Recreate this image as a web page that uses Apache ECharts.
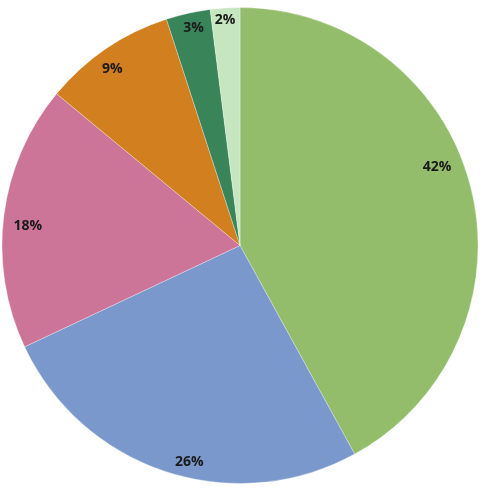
<!DOCTYPE html>
<html>
<head>
<meta charset="utf-8">
<script src="https://cdn.jsdelivr.net/npm/echarts@6/dist/echarts.min.js"></script>
<style>html,body{margin:0;padding:0;background:#fff;}#c{width:485px;height:489px;}</style>
</head>
<body>
<div id="c"></div>
<script>
const categories = ['A', 'B', 'C', 'D', 'E', 'F'];
const values = [42, 26, 18, 9, 3, 2];
const colors = ['#93bd6b', '#7a98cc', '#cc7598', '#d27f1f', '#3a845a', '#c6e6bf'];
const labelOffsets = [[-18, -23], [18, 5], [8, 8], [-3, 7], [2, -1], [-1, -4]];

const chart = echarts.init(document.getElementById('c'), null, {renderer: 'canvas'});
const pieData = categories.map((c, i) => ({name: c, value: values[i], itemStyle: {color: colors[i]}}));
const labelData = categories.map((c, i) => ({
  name: c, value: values[i],
  label: {offset: labelOffsets[i]}
}));
chart.setOption({
  animation: false,
  series: [
    {
      type: 'pie',
      center: [240, 245.5],
      radius: [0, 238],
      startAngle: 90,
      clockwise: true,
      data: pieData,
      label: {show: false},
      labelLine: {show: false},
      itemStyle: {borderColor: 'rgba(255,255,255,0.6)', borderWidth: 0.5},
      emphasis: {disabled: true}
    },
    {
      type: 'pie',
      center: [240, 245.5],
      radius: [200, 238],
      startAngle: 90,
      clockwise: true,
      silent: true,
      data: labelData,
      itemStyle: {color: 'rgba(0,0,0,0)'},
      label: {
        show: true,
        position: 'inside',
        formatter: p => p.value + '%',
        fontFamily: 'Open Sans',
        fontWeight: 'bold',
        fontSize: 14,
        color: '#1a1a1a'
      },
      labelLine: {show: false},
      emphasis: {disabled: true}
    }
  ]
});
</script>
</body>
</html>
